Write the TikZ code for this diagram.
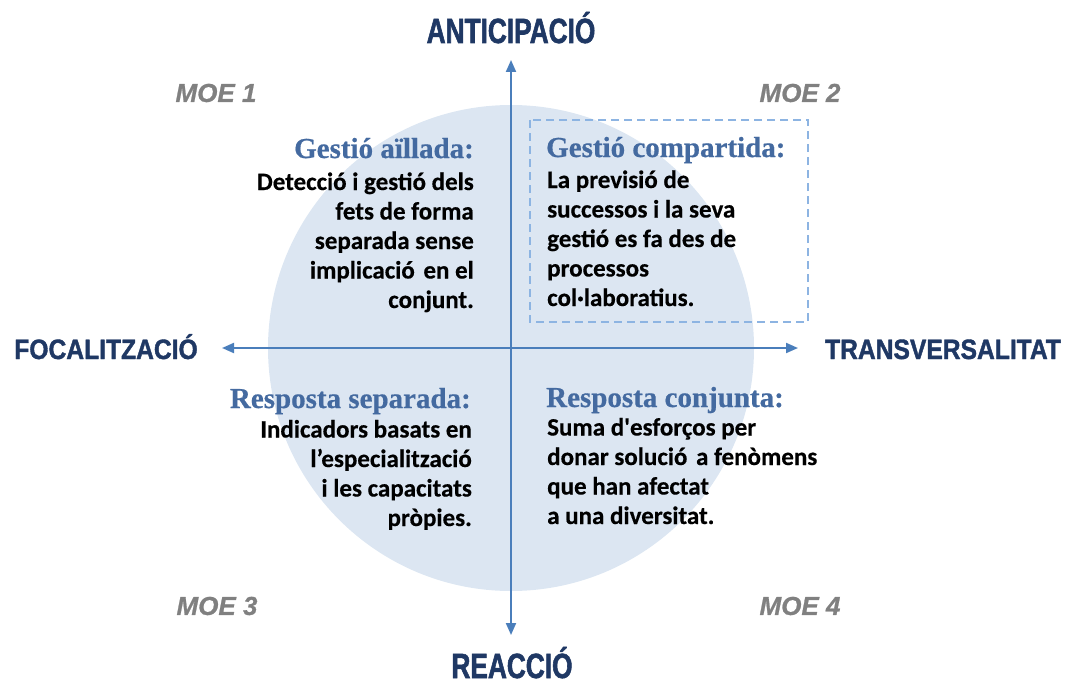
\documentclass[tikz,border=0pt]{standalone}
\usepackage{fontspec}
\usetikzlibrary{arrows.meta}
\newfontfamily\bodyfont{Carlito Bold}[FakeBold=0.4]
\newfontfamily\titlefont{Liberation Serif Bold}[FakeBold=0.6]
\newfontfamily\moefont{Liberation Sans Bold Italic}[FakeBold=0.8]
\newfontfamily\vaxfont{Liberation Sans Bold}[FakeStretch=0.75,FakeBold=1.6]
\newfontfamily\haxfont{Liberation Sans Bold}[FakeStretch=0.88,FakeBold=1.4]
\definecolor{circfill}{RGB}{220,230,242}
\definecolor{arrowblue}{RGB}{74,126,187}
\definecolor{navy}{RGB}{31,56,100}
\definecolor{titleblue}{RGB}{68,106,160}
\definecolor{moegray}{RGB}{128,128,128}
\definecolor{dashblue}{RGB}{141,180,226}
\begin{document}
\begin{tikzpicture}[x=1pt, y=-1pt,
    axis/.style={line width=2pt, draw=arrowblue, {Triangle[length=12pt,width=10pt]}-{Triangle[length=12pt,width=10pt]}},
    vlabel/.style={text=navy, inner sep=0pt, anchor=base, font=\vaxfont\fontsize{35}{40}\selectfont},
    hlabel/.style={text=navy, inner sep=0pt, anchor=base, font=\haxfont\fontsize{28}{32}\selectfont},
    moe/.style={text=moegray, inner sep=0pt, font=\moefont\fontsize{26}{30}\selectfont},
    qtitle/.style={text=titleblue, inner sep=0pt, font=\titlefont\fontsize{29}{34}\selectfont},
    qbody/.style={inner sep=0pt, font=\bodyfont\fontsize{25}{29.5}\selectfont}]
    \useasboundingbox (0,0) rectangle (1067,682);
    \coordinate (ctr) at (511,348);
    \fill[circfill] (ctr) circle (243pt);
    \draw[dashblue, line width=1.5pt, dash pattern=on 8pt off 5pt] (530,120) rectangle (808,322);
    % axes
    \coordinate (ytop) at (511,60);  \coordinate (ybot) at (511,635);
    \coordinate (xlft) at (222,348); \coordinate (xrgt) at (798,348);
    \draw[axis] (ybot) -- (ytop);
    \draw[axis] (xlft) -- (xrgt);
    \node[vlabel] (antic) at (511,43) {ANTICIPACIÓ};
    \node[vlabel] (reacc) at (512,678) {REACCIÓ};
    \node[hlabel] (focal) at (106,359) {FOCALITZACIÓ};
    \node[hlabel] (trans) at (943,359) {TRANSVERSALITAT};
    % MOE corners
    \node[moe] (moe1) at (216,93) {MOE 1};
    \node[moe] (moe2) at (800,93) {MOE 2};
    \node[moe] (moe3) at (217,606) {MOE 3};
    \node[moe] (moe4) at (800,606) {MOE 4};
    % quadrants (base = last line)
    \node[qtitle, anchor=base east] (tl) at (474,158) {Gestió aïllada:};
    \node[qbody, anchor=base east, align=right] (tlb) at (474,308) {Detecció i gestió dels\\fets de forma\\separada sense\\implicació\hspace{3pt} en el\\conjunt.};
    \node[qtitle, anchor=base west] (tr) at (546,157) {Gestió compartida:};
    \node[qbody, anchor=base west, align=left] (trb) at (547,306) {La previsió de\\successos i la seva\\gestió es fa des de\\processos\\col·laboratius.};
    \node[qtitle, anchor=base east] (bl) at (471,408) {Resposta separada:};
    \node[qbody, anchor=base east, align=right] (blb) at (472,526) {Indicadors basats en\\l’especialització\\i les capacitats\\pròpies.};
    \node[qtitle, anchor=base west] (br) at (546,407) {Resposta conjunta:};
    \node[qbody, anchor=base west, align=left] (brb) at (547,524) {Suma d\textquotesingle esforços per\\donar solució\hspace{3pt} a fenòmens\\que han afectat\\a una diversitat.};
\end{tikzpicture}
\end{document}
